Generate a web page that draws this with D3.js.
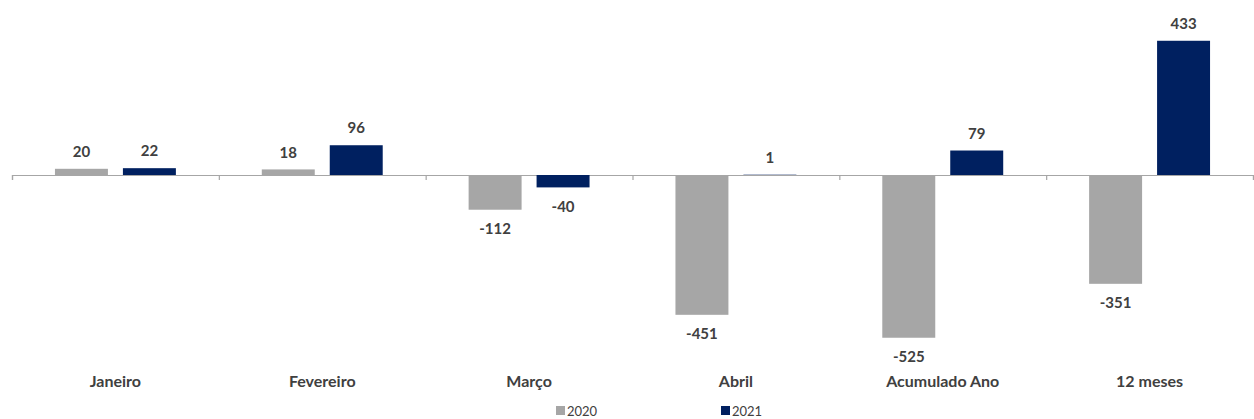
<!DOCTYPE html>
<html><head><meta charset="utf-8">
<script src="https://cdn.jsdelivr.net/npm/d3@7"></script>
<style>body{margin:0;background:#fff}svg{display:block}</style>
</head><body>
<svg id="c" width="1254" height="419"></svg>
<script>
const categories = ["Janeiro","Fevereiro","Março","Abril","Acumulado Ano","12 meses"];
const seriesNames = ["2020","2021"];
const values2020 = [20, 18, -112, -451, -525, -351];
const values2021 = [22, 96, -40, 1, 79, 433];
const colors = ["#A6A6A6", "#002060"];

const svg = d3.select("#c");
const left = 12, right = 1253;
const x = d3.scaleBand().domain(categories).range([left, right]).padding(0);
const xi = d3.scaleBand().domain(seriesNames).range([0, x.bandwidth()]).paddingInner(0.2206).paddingOuter(0.632);
const y = d3.scaleLinear().domain([-600, 500]).range([361, 20]);
const series = [values2020, values2021];

// axis
const bx = d3.scaleLinear().domain([0, categories.length]).range([left, right]);
const ax = svg.append("g").attr("transform", `translate(0,${y(0)})`)
  .call(d3.axisBottom(bx).tickValues(d3.range(categories.length + 1)).tickSize(5).tickFormat(""));
ax.selectAll("path,line").attr("stroke", "#a6a6a6").attr("stroke-width", 1.2);

series.forEach((vals, s) => {
  const g = svg.append("g");
  g.selectAll("rect").data(vals).enter().append("rect")
    .attr("x", (d, i) => x(categories[i]) + xi(seriesNames[s]))
    .attr("width", xi.bandwidth())
    .attr("y", d => Math.min(y(d), y(0)))
    .attr("height", d => Math.abs(y(d) - y(0)))
    .attr("fill", colors[s]);
  g.selectAll("text").data(vals).enter().append("text")
    .attr("x", (d, i) => x(categories[i]) + xi(seriesNames[s]) + xi.bandwidth() / 2)
    .attr("y", d => d >= 0 ? y(d) - 17 : y(d) + 19)
    .attr("dy", "0.35em")
    .attr("text-anchor", "middle")
    .attr("font-family", "Lato, sans-serif").attr("font-weight", "bold").attr("font-size", 15)
    .attr("fill", "#404040")
    .text(d => d);
});

svg.append("g").selectAll("text").data(categories).enter().append("text")
  .attr("x", d => x(d) + x.bandwidth() / 2)
  .attr("y", 381).attr("dy", "0.35em").attr("text-anchor", "middle")
  .attr("font-family", "Lato, sans-serif").attr("font-weight", "bold").attr("font-size", 16)
  .attr("fill", "#404040").text(d => d);

// legend
const legX = [556, 721];
const lg = svg.append("g").selectAll("g").data(seriesNames).enter().append("g")
  .attr("transform", (d, i) => `translate(${legX[i]},411)`);
lg.append("rect").attr("x", 0).attr("y", -5).attr("width", 9).attr("height", 9).attr("fill", (d, i) => colors[i]);
lg.append("text").attr("x", 11).attr("y", 0).attr("dy", "0.35em")
  .attr("font-family", "Lato, sans-serif").attr("font-size", 13).attr("fill", "#404040").text(d => d);
</script>
</body></html>
